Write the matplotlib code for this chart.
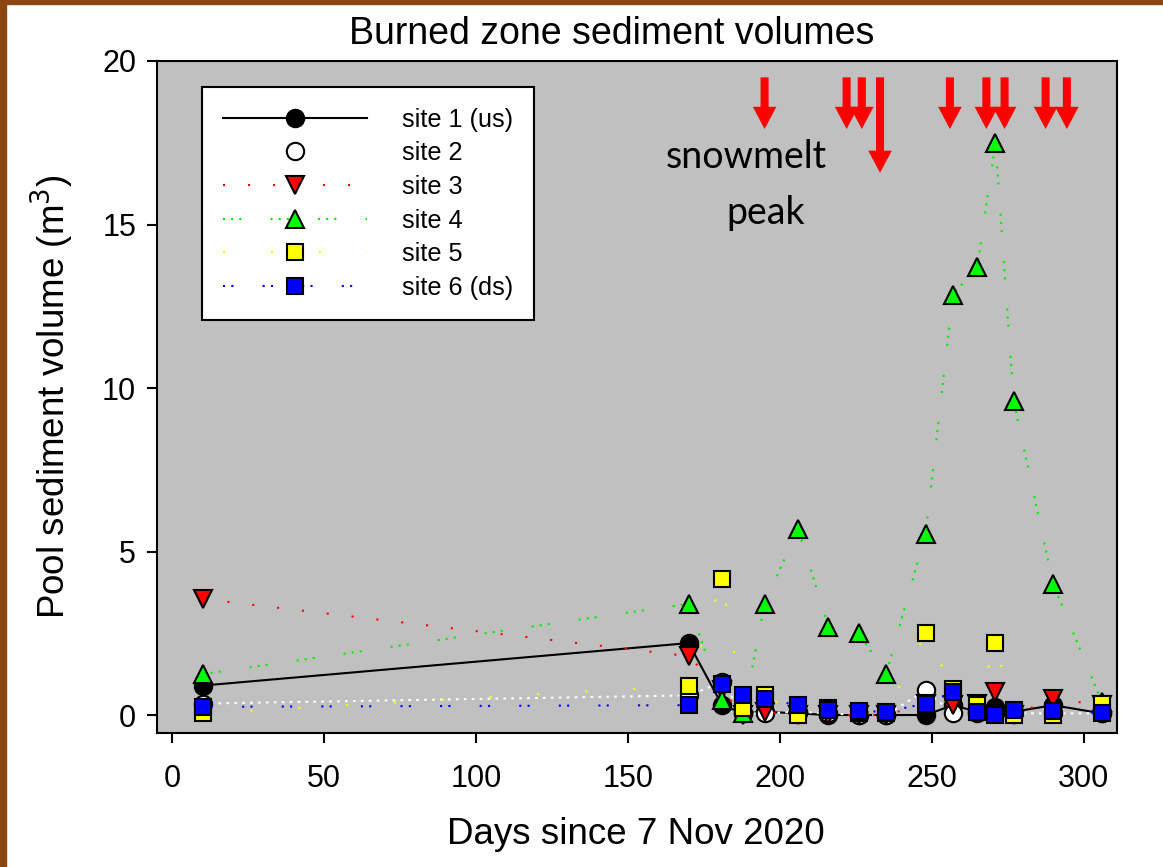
import matplotlib
matplotlib.use('Agg')
import matplotlib.pyplot as plt
import matplotlib.patches as mpatches

plt.rcParams['font.family'] = ['Liberation Sans', 'DejaVu Sans']

# sampling days (days since 7 Nov 2020)
days = [10, 170, 181, 188, 195, 206, 216, 226, 235, 248, 257, 265, 271, 277, 290, 306]

site1 = [0.9, 2.2, 0.3, 0.05, 0.1, 0.05, 0.0, 0.0, 0.0, 0.0, 0.3, 0.1, 0.25, 0.1, 0.3, 0.05]
site2 = [0.35, 0.6, 1.0, 0.05, 0.05, 0.1, 0.05, 0.0, 0.0, 0.75, 0.05, 0.05, 0.05, 0.05, 0.05, 0.05]
site3 = [3.55, 1.8, 0.75, 0.0, 0.1, 0.0, 0.0, 0.0, 0.0, 0.35, 0.3, 0.35, 0.7, 0.0, 0.5, 0.3]
site4 = [1.25, 3.4, 0.45, 0.05, 3.4, 5.7, 2.7, 2.5, 1.25, 5.55, 12.85, 13.7, 17.5, 9.6, 4.0, 0.4]
site5 = [0.05, 0.9, 4.15, 0.2, 0.6, 0.0, 0.2, 0.05, 0.05, 2.5, 0.8, 0.3, 2.2, 0.0, 0.0, 0.35]
site6 = [0.25, 0.3, 0.95, 0.6, 0.5, 0.3, 0.15, 0.12, 0.1, 0.35, 0.7, 0.1, 0.0, 0.15, 0.12, 0.05]

labels = ['site 1 (us)', 'site 2', 'site 3', 'site 4', 'site 5', 'site 6 (ds)']

# snowmelt peak days (arrows); the long one marks the main peak
peak_days = [195, 222, 227, 233, 256, 268, 274, 287.5, 294.5]
peak_long = [False, False, False, True, False, False, False, False, False]

fig = plt.figure(figsize=(11.63, 8.67), dpi=100)
ax = fig.add_axes([157/1163, 1 - 733/867, 960/1163, 672/867])
ax.set_facecolor('#c0c0c0')

series = [
    (site1, dict(color='black', ls='-', marker='o', mfc='black', mec='black')),
    (site2, dict(color='white', ls=(0, (1.3, 2.5)), marker='o', mfc='white', mec='black')),
    (site3, dict(color='red', ls=(0, (1, 11)), marker='v', mfc='red', mec='black')),
    (site4, dict(color='#00ee00', ls=(0, (1, 2.9, 1, 2.9, 1, 14)), marker='^', mfc='#00ff00', mec='black')),
    (site5, dict(color='yellow', ls=(0, (1, 22)), marker='s', mfc='yellow', mec='black')),
    (site6, dict(color='blue', ls=(0, (1, 3, 1, 14)), marker='s', mfc='blue', mec='black')),
]
for (vals, kw), lab in zip(series, labels):
    ms = 11 if kw['marker'] == 's' else 12.5
    ax.plot(days, vals, lw=1.5, ms=ms, mew=1.5, label=lab, **kw)

ax.set_xlim(-5, 311)
ax.set_ylim(-0.55, 20)
ax.set_xticks(range(0, 301, 50))
ax.set_yticks(range(0, 21, 5))
ax.tick_params(direction='out', length=7, width=1.5, labelsize=22)
ax.tick_params(axis='x', pad=15)
ax.tick_params(axis='y', pad=8)
for sp in ax.spines.values():
    sp.set_linewidth(1.5)

# snowmelt arrows
for d, lng in zip(peak_days, peak_long):
    tip = 16.58 if lng else 17.92
    ax.annotate('', xy=(d, tip), xytext=(d, 19.5),
                arrowprops=dict(facecolor='red', edgecolor='none', width=5.8,
                                headwidth=17, headlength=16, shrink=0))

ax.text(189, 17.05, 'snowmelt', ha='center', va='center', fontsize=27, family='Lato')
ax.text(195.5, 15.35, 'peak', ha='center', va='center', fontsize=27, family='Lato')

leg = ax.legend(loc='upper left', bbox_to_anchor=(45/960, 646/672), borderaxespad=0,
                fontsize=18.2, handlelength=5.7, handletextpad=1.4, labelspacing=0.38,
                numpoints=1, fancybox=False, framealpha=1, edgecolor='black',
                borderpad=0.82)
leg.get_frame().set_linewidth(1.5)

fig.text(612/1163, 1 - 34/867, 'Burned zone sediment volumes', ha='center', va='center', fontsize=27)
fig.text(636/1163, 1 - 835/867, 'Days since 7 Nov 2020', ha='center', va='center', fontsize=26.5)
fig.text(52/1163, 1 - 397/867, 'Pool sediment volume (m$^3$)', ha='center', va='center',
         rotation=90, fontsize=26.5)

# brown frame on left and top
fig.add_artist(mpatches.Rectangle((0, 0), 6/1163, 1, transform=fig.transFigure,
                                  color='#8b4513', zorder=10))
fig.add_artist(mpatches.Rectangle((0, 1 - 4/867), 1, 4/867, transform=fig.transFigure,
                                  color='#8b4513', zorder=10))

fig.savefig('out.png', dpi=100)
